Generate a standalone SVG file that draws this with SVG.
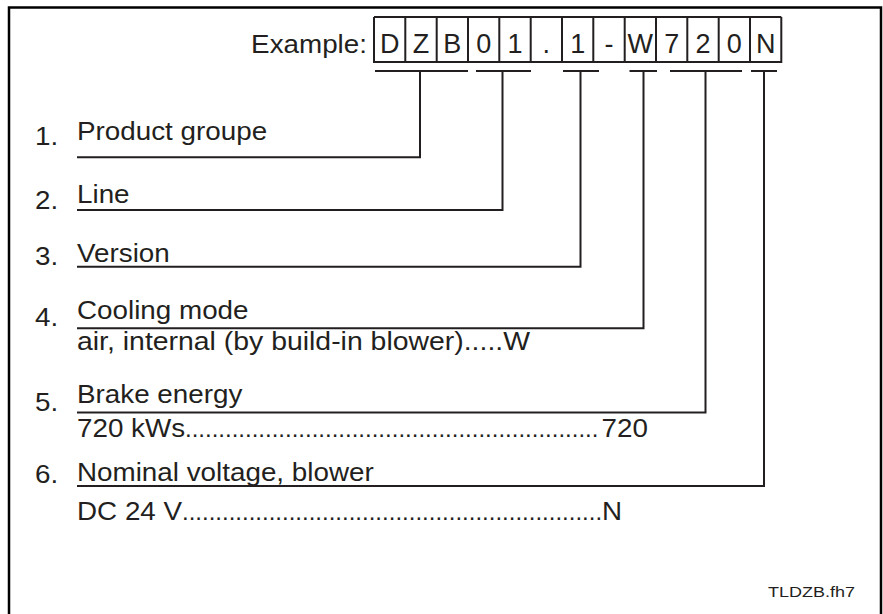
<svg xmlns="http://www.w3.org/2000/svg" width="883" height="614" viewBox="0 0 883 614">
<style>
.t{font-family:"Liberation Sans",Arial,sans-serif;font-size:26px;fill:#231f20}
.d{font-family:"Liberation Sans",Arial,sans-serif;font-size:24px;fill:#231f20}
.b{font-family:"Liberation Sans",Arial,sans-serif;font-size:27px;fill:#231f20;text-anchor:middle}
.s{font-family:"Liberation Sans",Arial,sans-serif;font-size:15px;fill:#231f20}
.ln{fill:none;stroke:#231f20;stroke-width:2}
.fr{fill:none;stroke:#000;stroke-width:2.5}
</style>
<rect width="883" height="614" fill="#fff"/>
<path class="fr" d="M9,614 V7.5 H881 V614"/>
<g id="code">
<text class="t" transform="translate(367,53) scale(1.07,1)" text-anchor="end">Example:</text>
<path class="ln" d="M374,17 V62 H781.3 V17 M405.3,17 V62 M436.7,17 V62 M468,17 V62 M499.3,17 V62 M530.7,17 V62 M562,17 V62 M593.3,17 V62 M624.7,17 V62 M656,17 V62 M687.3,17 V62 M718.7,17 V62 M750,17 V62 M374,17 H781.3"/>
<g class="b">
<text x="389.7" y="52.5">D</text><text x="421" y="52.5">Z</text><text x="452.3" y="52.5">B</text><text x="483.7" y="52.5">0</text><text x="515" y="52.5">1</text><text x="546.3" y="52.5">.</text><text x="577.7" y="52.5">1</text><text x="609" y="52.5">-</text><text x="640.3" y="52.5">W</text><text x="671.7" y="52.5">7</text><text x="703" y="52.5">2</text><text x="734.3" y="52.5">0</text><text x="765.7" y="52.5">N</text>
</g>
</g>
<g id="item1">
<text class="t" transform="translate(35,145) scale(1.07,1)">1.</text>
<text class="t" transform="translate(77,140) scale(1.07,1)">Product groupe</text>
</g>
<g id="item2">
<text class="t" transform="translate(35,209) scale(1.07,1)">2.</text>
<text class="t" transform="translate(77,203) scale(1.07,1)">Line</text>
</g>
<g id="item3">
<text class="t" transform="translate(35,265) scale(1.07,1)">3.</text>
<text class="t" transform="translate(77,262) scale(1.07,1)">Version</text>
</g>
<g id="item4">
<text class="t" transform="translate(35,326) scale(1.07,1)">4.</text>
<text class="t" transform="translate(77,319) scale(1.07,1)">Cooling mode</text>
<text class="t" transform="translate(77,350) scale(1.093,1)">air, internal (by build-in blower).....W</text>
</g>
<g id="item5">
<text class="t" transform="translate(35,411) scale(1.07,1)">5.</text>
<text class="t" transform="translate(77,403) scale(1.07,1)">Brake energy</text>
<text class="t" transform="translate(77,436.5) scale(1.07,1)">720 kWs</text>
<text class="d" x="185" y="436.5">..............................................................</text>
<text class="t" transform="translate(648,436.5) scale(1.07,1)" text-anchor="end">720</text>
</g>
<g id="item6">
<text class="t" transform="translate(35,483) scale(1.07,1)">6.</text>
<text class="t" transform="translate(77,481) scale(1.07,1)">Nominal voltage, blower</text>
<text class="t" transform="translate(77,520) scale(1.07,1)">DC 24 V</text>
<text class="d" x="182" y="520">...............................................................</text>
<text class="t" transform="translate(622,520) scale(1.07,1)" text-anchor="end">N</text>
</g>
<g id="connectors">
<path class="ln" d="M375,71 H468 M420,71 V157.3 H77"/>
<path class="ln" d="M476,71 H531 M502.5,71 V210 H77"/>
<path class="ln" d="M563,71 H599 M580.5,71 V266.7 H77"/>
<path class="ln" d="M629.5,71 H657 M643.5,71 V328.3 H77"/>
<path class="ln" d="M670,71 H742 M705.5,71 V412.5 H77"/>
<path class="ln" d="M751,71 H777 M764,71 V486 H77"/>
</g>
<text class="s" transform="translate(768,596.5) scale(1.2,1)">TLDZB.fh7</text>
</svg>
